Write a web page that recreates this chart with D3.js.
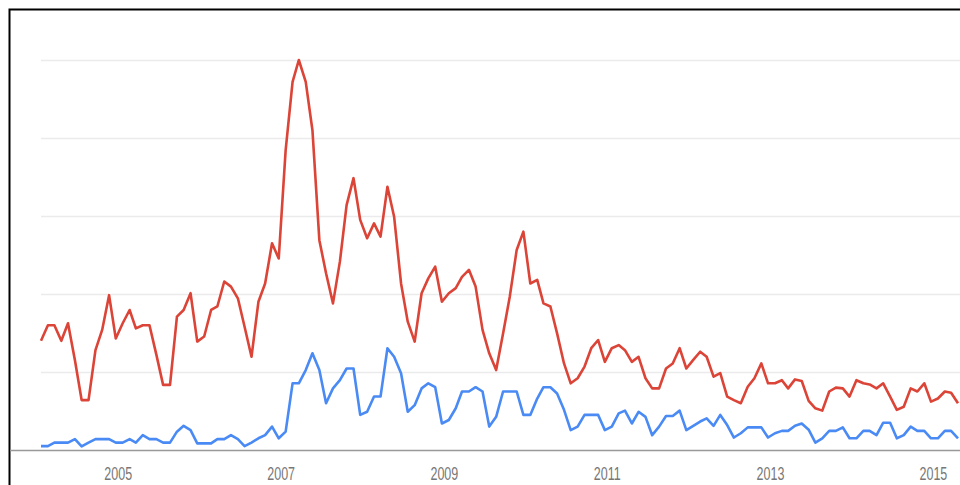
<!DOCTYPE html>
<html>
<head>
<meta charset="utf-8">
<script src="https://cdn.jsdelivr.net/npm/d3@7"></script>
<style>
  html, body { margin: 0; padding: 0; background: #fff; }
  svg { display: block; }
</style>
</head>
<body>
<svg id="chart" width="960" height="485"></svg>
<script>
// Monthly data, Jan 2004 onward
const startMonth = new Date(2004, 0, 1);
const redSeries = [
  28, 32, 32, 28, 32.5, 23, 12.8, 12.8, 25.6, 30.8, 39.7, 28.6,
  32.5, 35.9, 31.2, 32, 32, 24.4, 16.7, 16.7, 34.2, 35.9, 40.2, 27.8,
  29.1, 35.9, 36.8, 43.2, 41.9, 38.9, 31.6, 23.9, 38, 42.7, 53, 49.1,
  76.9, 94.4, 100, 94.4, 82, 53.8, 45.3, 37.6, 48.3, 62.8, 69.7, 59,
  54.3, 58.1, 54.7, 67.5, 59.8, 42.7, 32.9, 27.8, 40.2, 44, 47, 38,
  40.2, 41.5, 44.4, 46.2, 41.9, 30.8, 24.8, 20.5, 29.9, 39.3, 51.3, 56,
  42.7, 43.6, 37.6, 36.8, 29.9, 22.2, 17.1, 18.4, 21.4, 26.1, 28.2, 22.6,
  26.1, 26.9, 25.6, 22.6, 23.9, 18.4, 15.8, 15.8, 20.9, 22.2, 26.1, 20.9,
  23.1, 25.2, 23.9, 18.8, 19.7, 13.7, 12.8, 12, 16.2, 18.4, 22.2, 17.1,
  17.1, 17.9, 15.8, 18.1, 17.7, 12.6, 10.7, 10.1, 15, 16, 15.8, 13.7,
  17.9, 17.1, 16.8, 15.8, 17.1, 13.7, 10.3, 11.1, 15.8, 15, 17.1, 12.4,
  13.2, 15, 14.7, 12
];
const blueSeries = [
  1, 1, 1.9, 1.9, 1.9, 2.8, 0.9, 1.9, 2.8, 2.8, 2.8, 1.9,
  1.9, 2.8, 1.9, 3.8, 2.8, 2.8, 1.9, 1.9, 4.7, 6.2, 5.1, 1.7,
  1.7, 1.7, 2.8, 2.8, 3.8, 2.8, 1, 1.9, 3, 3.8, 6, 3,
  4.7, 17.1, 17.1, 20.5, 24.8, 20.5, 12, 15.8, 17.9, 20.9, 20.9, 9,
  9.8, 13.7, 13.7, 26.1, 23.9, 19.7, 9.8, 11.5, 15.8, 17.1, 16.1, 6.8,
  7.7, 10.7, 15, 15, 16.1, 15, 6, 8.5, 15, 15, 15, 9,
  9, 13.2, 16.1, 16.1, 14.5, 10.3, 5.1, 6, 9, 9, 9, 5.1,
  6, 9.4, 10.1, 6.8, 9.8, 8.5, 3.8, 6, 8.7, 8.7, 10.1, 5.1,
  6.2, 7.3, 8.1, 6.2, 9, 6.4, 3.2, 4.3, 5.8, 5.8, 5.8, 3.2,
  4.3, 4.9, 4.9, 6.2, 6.8, 5.2, 1.9, 3, 4.9, 4.9, 5.8, 3,
  3, 4.9, 4.9, 3.8, 7, 7, 3, 3.8, 6, 4.9, 4.9, 3,
  3, 4.9, 4.9, 3
];
const yTicks = [0, 20, 40, 60, 80, 100];
const yearLabels = ["2005", "2007", "2009", "2011", "2013", "2015"];

const months = redSeries.map((_, i) => d3.timeMonth.offset(startMonth, i));

const svg = d3.select("#chart");
const plotLeft = 41, plotRight = 958, plotTop = 60, plotBottom = 450;

const x = d3.scaleTime()
  .domain([months[0], months[months.length - 1]])
  .range([plotLeft, plotRight]);
const y = d3.scaleLinear().domain([0, 100]).range([plotBottom, plotTop]);

// frame
svg.append("rect")
  .attr("x", 9.5).attr("y", 9.5)
  .attr("width", 970).attr("height", 490)
  .attr("fill", "none").attr("stroke", "#000").attr("stroke-width", 2);

// gridlines
svg.append("g").selectAll("line")
  .data(yTicks.filter(d => d > 0))
  .join("line")
  .attr("x1", plotLeft).attr("x2", 960)
  .attr("y1", d => Math.round(y(d)) + 0.5).attr("y2", d => Math.round(y(d)) + 0.5)
  .attr("stroke", "#ebebeb").attr("stroke-width", 1.5);

// baseline
svg.append("line")
  .attr("x1", 10).attr("x2", 960)
  .attr("y1", y(0) + 0.5).attr("y2", y(0) + 0.5)
  .attr("stroke", "#999").attr("stroke-width", 1.3);

// year labels
svg.append("g").selectAll("text")
  .data(yearLabels)
  .join("text")
  .attr("transform", d => `translate(${x(new Date(+d, 0, 1)) - 4.5},480) scale(1,1.45)`)
  .attr("text-anchor", "middle")
  .attr("font-family", "Liberation Sans, Arial, sans-serif")
  .attr("font-size", 12.5)
  .attr("fill", "#777")
  .text(d => d);

const line = d3.line()
  .x((d, i) => x(months[i]))
  .y(d => y(d));

svg.append("path")
  .datum(blueSeries)
  .attr("d", line)
  .attr("fill", "none")
  .attr("stroke", "#4a8af4")
  .attr("stroke-width", 2.6)
  .attr("stroke-linejoin", "round");

svg.append("path")
  .datum(redSeries)
  .attr("d", line)
  .attr("fill", "none")
  .attr("stroke", "#db4437")
  .attr("stroke-width", 2.6)
  .attr("stroke-linejoin", "round");
</script>
</body>
</html>
